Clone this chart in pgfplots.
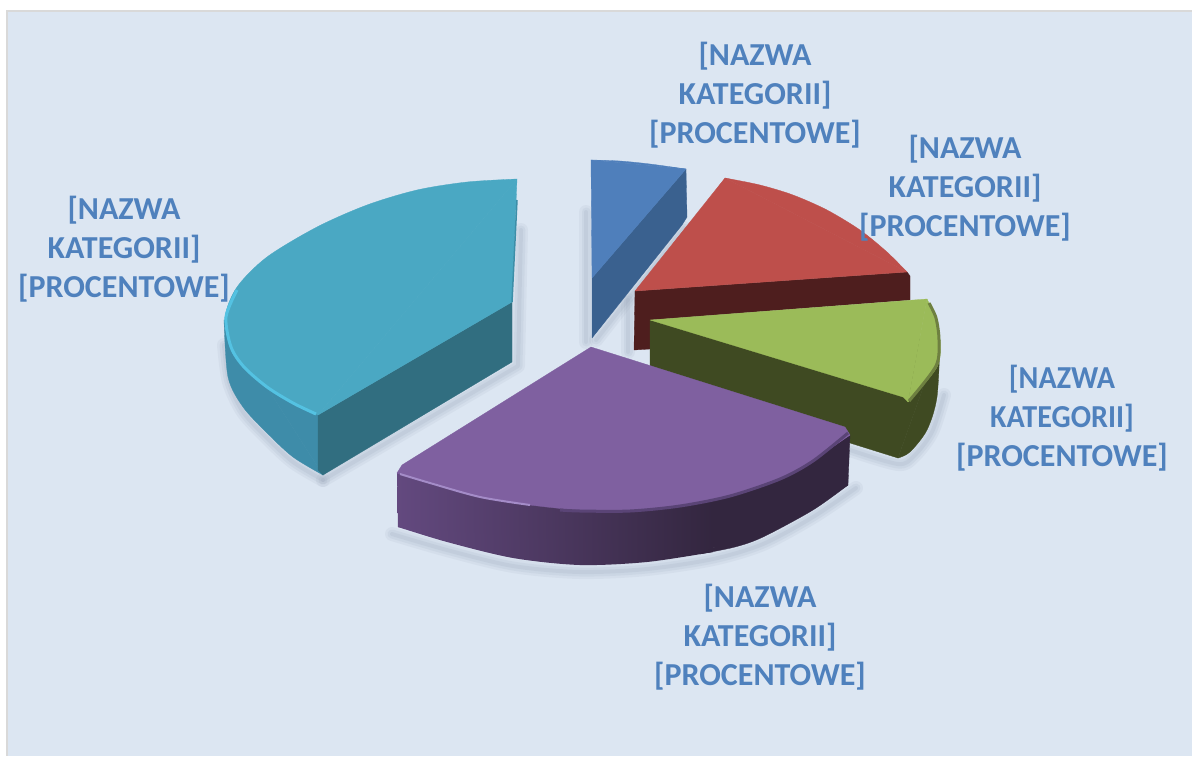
\documentclass[border=0pt]{standalone}
\usepackage{pgfplots}
\pgfplotsset{compat=1.18}
\usepackage{fontspec}
\setmainfont{Carlito}
\definecolor{bg}{HTML}{DCE6F2}
\definecolor{frame}{HTML}{D9D9D9}
\definecolor{lab}{HTML}{4F81BD}
\definecolor{shad}{HTML}{8A98AC}
\definecolor{blueS}{HTML}{3A618F}
\definecolor{blueT}{HTML}{4F7FBB}
\definecolor{redS}{HTML}{4E1E1E}
\definecolor{redT}{HTML}{BE4F4B}
\definecolor{greenS}{HTML}{3F4A22}
\definecolor{greenT}{HTML}{9BBB59}
\definecolor{greenR}{HTML}{6E8040}
\definecolor{tealC}{HTML}{3E8CA9}
\definecolor{tealS}{HTML}{316E80}
\definecolor{tealT}{HTML}{4AA8C3}
\definecolor{tealE}{HTML}{3C8EA8}
\definecolor{tealH}{HTML}{54C2E2}
\definecolor{purA}{HTML}{63497F}
\definecolor{purB}{HTML}{33263F}
\definecolor{purT}{HTML}{7F60A0}
\definecolor{purH}{HTML}{A48CC8}
\definecolor{purR}{HTML}{5A4476}
\pgfplotsset{F/.style={fill=#1,draw=#1,line width=0.3pt,line join=round},
  S/.style={draw=shad,line join=round,line cap=round}}
\newcommand{\lbl}[3]{\node[align=center,text=lab,font=\fontsize{32}{39}\selectfont\bfseries,inner sep=0pt] at (axis cs:#1,#2) {#3};}
\begin{document}
\begin{tikzpicture}
\begin{axis}[hide axis,scale only axis,width=1192pt,height=756pt,
  xmin=0,xmax=1192,ymin=0,ymax=756,y dir=reverse,clip=true]
% page and panel
\addplot[fill=white,draw=none] coordinates {(0,0)(1192,0)(1192,756)(0,756)} --cycle;
\addplot[fill=frame,draw=none] coordinates {(6,10)(1192,10)(1192,756)(6,756)} --cycle;
\addplot[fill=bg,draw=none] coordinates {(8,12)(1192,12)(1192,756)(8,756)} --cycle;
% soft shadows
\foreach \w/\o in {14/0.09,9/0.11,4/0.13}{
 \edef\tmp{\noexpand\addplot[smooth,S,opacity=\o,line width=\w pt]
 coordinates {(392,534)(447,550)(513,566)(580,572)(647,569)(713,559)(763,544)(813,517)(856,488)};
 \noexpand\addplot[smooth,S,opacity=\o,line width=\w pt]
 coordinates {(224,345)(229,382)(243,412)(267,438)(293,462)(323,480)};
 \noexpand\addplot[S,opacity=\o,line width=\w pt]
 coordinates {(323,480)(518,366)(521,230)};
 \noexpand\addplot[S,opacity=\o,line width=\w pt]
 coordinates {(586,212)(586,342)};
 \noexpand\addplot[smooth,S,opacity=\o,line width=\w pt]
 coordinates {(850,450)(898,464)(914,456)(932,432)(944,395)};
 \noexpand\addplot[S,opacity=\o,line width=\w pt]
 coordinates {(628,352)(628,300)};
 \noexpand\addplot[S,opacity=\o,line width=\w pt]
 coordinates {(596,340)(684,228)};}\tmp
}
% blue
\addplot[F=blueS] coordinates {(686,169)(687,217)(682,225)(592,338)(592,278)} --cycle;
\addplot[F=blueT] coordinates {(591,160)(686,169)(592,278)} --cycle;
\addplot[smooth,F=blueT] coordinates {(591,160)(620,161)(650,164)(686,169)} --cycle;
% red
\addplot[F=redS] coordinates {(635,291)(907,272)(910,276)(910,300)(650,320)(650,349)(634,350)} --cycle;
\addplot[F=redT] coordinates {(635,291)(725,178)(907,272)} --cycle;
\addplot[smooth,F=redT] coordinates {(725,178)(760,185)(793,195)(827,210)(860,230)(887,252)(907,272)} --cycle;
% green
\addplot[F=greenS] coordinates {(650,320)(940,340)(898,458)(850,443)(650,366)} --cycle;
\addplot[smooth,F=greenS] coordinates {(940,340)(937,397)(927,430)(910,452)(898,458)} --cycle;
\addplot[F=greenT] coordinates {(650,320)(927,299)(908,402)(903,397)} --cycle;
\addplot[smooth,F=greenT] coordinates {(927,299)(935,317)(940,340)(937,367)(908,402)} --cycle;
\addplot[smooth,draw=greenR,line width=3pt] coordinates {(929,303)(936,318)(939,340)(936,366)(909,401)};
% teal
\addplot[F=tealC] coordinates {(224,320)(318,415)(323,475)} --cycle;
\addplot[smooth,F=tealC] coordinates {(224,320)(228,377)(243,407)(267,433)(293,457)(323,475)} --cycle;
\addplot[F=tealS] coordinates {(318,415)(512,302)(512,362)(323,475)(318,470)} --cycle;
\addplot[F=tealT] coordinates {(517,179)(318,415)(512,302)} --cycle;
\addplot[smooth,F=tealT] coordinates {(517,179)(467,182)(417,190)(367,205)(317,227)(267,257)(237,287)(225,317)(230,347)(243,367)(267,387)(293,403)(318,415)} --cycle;
\addplot[draw=tealE,line width=1.5pt] coordinates {(517,200)(512,302)};
\addplot[smooth,draw=tealH,line width=3pt,line join=round] coordinates {(237,290)(226,317)(231,347)(244,367)(267,387)(293,403)(316,414)};
% purple
\addplot[left color=purA,right color=purB,draw=none] coordinates {(397,473)(713,480)(713,552)(647,559)(580,562)(513,555)(447,539)(398,527)} --cycle;
\addplot[smooth,left color=purA,right color=purB,draw=none] coordinates {(398,527)(447,542)(513,558)(580,565)(647,562)(713,552)} --cycle;
\addplot[F=purB] coordinates {(712,480)(845,430)(850,435)(848,485)(813,508)(763,534)(712,548)} --cycle;
\addplot[smooth,F=purB] coordinates {(700,554)(735,547)(763,537)(813,510)(848,485)} --cycle;
\addplot[F=purT] coordinates {(591,347)(845,427)(850,435)(813,458)(780,476)(730,493)(680,503)(630,508)(580,508)(530,503)(480,495)(430,480)(397,473)(402,465)} --cycle;
\addplot[smooth,F=purT] coordinates {(850,435)(813,460)(780,478)(730,495)(680,505)(630,510)(580,510)(530,505)(480,497)(430,482)(397,473)} --cycle;
\addplot[smooth,draw=purH,line width=2pt] coordinates {(400,474)(430,483)(480,497)(530,505)};
\addplot[smooth,draw=purR,line width=3pt] coordinates {(560,510)(580,511)(630,511)(680,506)(730,496)(780,479)(813,461)(848,433)};
% labels
\lbl{755}{95.5}{[NAZWA\\KATEGORII]\\{[PROCENTOWE]}}
\lbl{965}{188.5}{[NAZWA\\KATEGORII]\\{[PROCENTOWE]}}
\lbl{1062}{418}{\scalebox{0.94}[1]{[NAZWA}\\\scalebox{0.94}[1]{KATEGORII]}\\{[PROCENTOWE]}}
\lbl{760}{637}{[NAZWA\\KATEGORII]\\{[PROCENTOWE]}}
\lbl{124}{249.5}{[NAZWA\\KATEGORII]\\{[PROCENTOWE]}}
\end{axis}
\end{tikzpicture}
\end{document}
